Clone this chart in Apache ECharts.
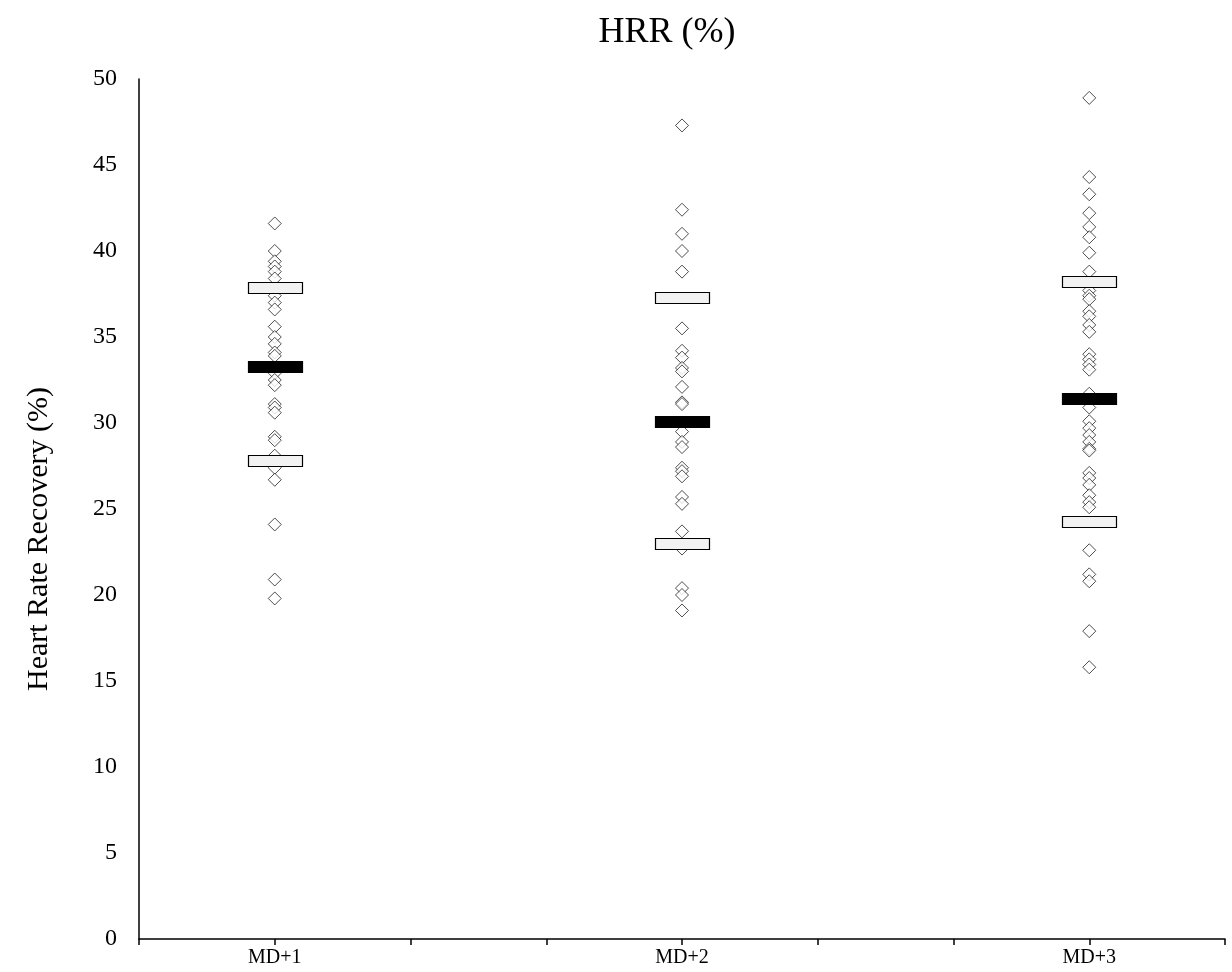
<!DOCTYPE html>
<html>
<head>
<meta charset="utf-8">
<script src="https://cdn.jsdelivr.net/npm/echarts@6/dist/echarts.min.js"></script>
<style>
  html, body { margin: 0; padding: 0; background: #fff; }
  #chart { width: 1232px; height: 972px; }
</style>
</head>
<body>
<div id="chart"></div>
<script>
// days after match, placed at 1, 4, 7 on a 0..8 axis
let categories = ['MD+1', 'MD+2', 'MD+3'];
let xPos = [1, 4, 7];

// individual HRR values (%)
let md1 = [41.6, 40.0, 39.4, 39.1, 38.8, 38.4, 37.4, 37.0, 36.6, 35.6, 35.0, 34.6, 34.1, 33.9,
  32.9, 32.5, 32.2, 31.1, 30.9, 30.6, 29.2, 29.0, 28.1, 27.4, 26.7, 24.1, 20.9, 19.8];
let md2 = [47.3, 42.4, 41.0, 40.0, 38.8, 35.5, 34.2, 33.8, 33.2, 33.0, 32.1, 31.2, 31.1, 29.5,
  28.9, 28.6, 27.4, 27.2, 26.9, 25.7, 25.3, 23.7, 22.7, 20.4, 20.0, 19.1];
let md3 = [48.9, 44.3, 43.3, 42.2, 41.4, 40.8, 39.9, 38.8, 37.7, 37.4, 37.2, 36.5, 36.2, 35.7,
  35.3, 34.0, 33.7, 33.4, 33.1, 31.7, 30.9, 30.1, 29.7, 29.3, 28.9, 28.5, 28.4, 27.1, 26.8,
  26.4, 25.8, 25.4, 25.1, 22.6, 21.2, 20.8, 17.9, 15.8];

// group summary markers
let means = [33.3, 30.1, 31.4];
let upper = [37.9, 37.3, 38.2];
let lower = [27.8, 23.0, 24.3];

let font = '"Liberation Serif", "DejaVu Serif", serif';

let groups = [md1, md2, md3];
let points = [];
groups.forEach(function (vals, i) {
  vals.forEach(function (v) {
    points.push([xPos[i], v]);
  });
});
let bands = [];
for (let i = 0; i < xPos.length; i++) {
  bands.push([xPos[i], upper[i]]);
  bands.push([xPos[i], lower[i]]);
}
let meanPts = xPos.map(function (x, i) { return [x, means[i]]; });

// flat box centred on the data point (width/height in px)
let boxItem = function (fill) {
  return function (params, api) {
    let c = api.coord([api.value(0), api.value(1)]);
    return {
      type: 'rect',
      shape: { x: Math.round(c[0] - 27) + 0.5, y: Math.round(c[1] - 5.5) + 0.5, width: 54, height: 11 },
      style: { fill: fill, stroke: '#000', lineWidth: 1.2 }
    };
  };
};

let chart = echarts.init(document.getElementById('chart'));
chart.setOption({
  backgroundColor: '#fff',
  animation: false,
  title: {
    text: 'HRR (%)',
    left: 662,
    top: 10,
    textAlign: 'center',
    textStyle: { fontFamily: font, fontSize: 36, fontWeight: 'normal', color: '#000' }
  },
  grid: { left: 139, right: 7, top: 79, bottom: 33 },
  xAxis: {
    type: 'value',
    min: 0,
    max: 8,
    interval: 1,
    splitLine: { show: false },
    axisLine: { show: true, lineStyle: { color: '#000', width: 1.5 } },
    axisTick: { show: true, length: 6, lineStyle: { color: '#000', width: 1.5 } },
    axisLabel: {
      margin: 9,
      fontFamily: font,
      fontSize: 20,
      color: '#000',
      formatter: function (v) {
        let k = xPos.indexOf(v);
        return k >= 0 ? categories[k] : '';
      }
    }
  },
  yAxis: {
    type: 'value',
    min: 0,
    max: 50,
    interval: 5,
    name: 'Heart Rate Recovery (%)',
    nameLocation: 'middle',
    nameGap: 85,
    nameRotate: 90,
    nameTextStyle: { fontFamily: font, fontSize: 30, color: '#000', padding: [0, 60, 0, 0] },
    splitLine: { show: false },
    axisLine: { show: true, lineStyle: { color: '#000', width: 1.5 } },
    axisTick: { show: false },
    axisLabel: { margin: 22, fontFamily: font, fontSize: 24, color: '#000' }
  },
  series: [
    {
      type: 'scatter',
      symbol: 'diamond',
      symbolSize: [13, 13],
      z: 2,
      itemStyle: { color: '#fff', borderColor: '#222', borderWidth: 1 },
      data: points
    },
    {
      type: 'custom',
      z: 3,
      renderItem: boxItem('#f2f2f2'),
      data: bands
    },
    {
      type: 'custom',
      z: 4,
      renderItem: boxItem('#000'),
      data: meanPts
    }
  ]
});
</script>
</body>
</html>
